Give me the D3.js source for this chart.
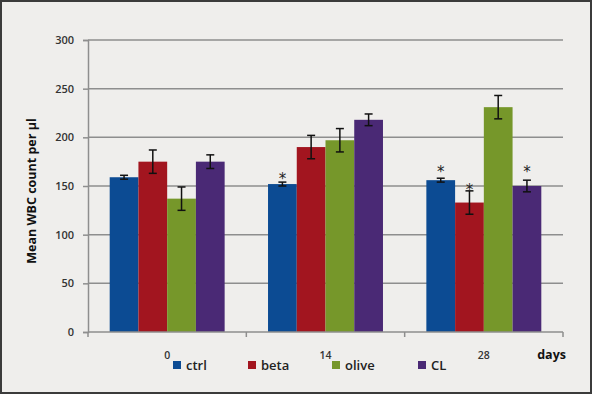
<!DOCTYPE html>
<html><head><meta charset="utf-8">
<script src="https://cdn.jsdelivr.net/npm/d3@7"></script>
<style>body{margin:0;background:#fff}svg{display:block}</style>
</head><body>
<svg id="c" width="593" height="396"></svg>
<script>
const categories = ["0", "14", "28"];
const seriesNames = ["ctrl", "beta", "olive", "CL"];
const seriesColors = ["#0c4b93", "#a2151f", "#76972a", "#4a2975"];
const ctrl  = [159, 152, 156];
const beta  = [175, 190, 133];
const olive = [137, 197, 231];
const CL    = [175, 218, 150];
const ctrlErr  = [2, 2, 2];
const betaErr  = [12, 12, 12];
const oliveErr = [12, 12, 12];
const CLErr    = [7, 6, 6];
// asterisk (significance) markers: value level of the star, null = none
const ctrlStar  = [null, 161, 168];
const betaStar  = [null, null, 150];
const oliveStar = [null, null, null];
const CLStar    = [null, null, 168];
const yTicks = [0, 50, 100, 150, 200, 250, 300];
const yLabel = "Mean WBC count per µl";
const xLabel = "days";

const values = [ctrl, beta, olive, CL];
const errs = [ctrlErr, betaErr, oliveErr, CLErr];
const stars = [ctrlStar, betaStar, oliveStar, CLStar];

const svg = d3.select("#c");
svg.append("rect").attr("x", 1).attr("y", 1).attr("width", 590).attr("height", 392)
  .attr("fill", "#efeeec").attr("stroke", "#3b3b3b").attr("stroke-width", 2);

const L = 88, R = 563, T = 40, B = 332;
const font = "'Open Sans', 'DejaVu Sans', sans-serif";
const x0 = d3.scaleBand().domain(categories).range([L, R]).paddingInner(0.274).paddingOuter(0.137);
const x1 = d3.scaleBand().domain(seriesNames).range([0, x0.bandwidth()]).padding(0);
const y = d3.scaleLinear().domain([0, 300]).range([B, T]);

// gridlines
svg.append("g").selectAll("line").data(yTicks.filter(d => d > 0)).join("line")
  .attr("x1", L).attr("x2", R).attr("y1", d => y(d)).attr("y2", d => y(d))
  .attr("stroke", "#8e8e8e").attr("stroke-width", 1.5);

// y axis
const ya = svg.append("g").attr("transform", `translate(${L},0)`)
  .call(d3.axisLeft(y).tickValues(yTicks).tickSize(5).tickPadding(9));
ya.select(".domain").attr("stroke", "#8e8e8e").attr("stroke-width", 1.5);
ya.selectAll(".tick line").attr("stroke", "#8e8e8e").attr("stroke-width", 1.5);
ya.selectAll("text").attr("font-family", font).attr("font-size", 11).attr("font-weight", 600).attr("fill", "#333");

// bars
const groups = svg.append("g").selectAll("g").data(categories).join("g")
  .attr("transform", d => `translate(${x0(d)},0)`);
seriesNames.forEach((s, si) => {
  groups.append("rect")
    .attr("x", x1(s)).attr("width", x1.bandwidth())
    .attr("y", (d, ci) => y(values[si][ci]))
    .attr("height", (d, ci) => y(0) - y(values[si][ci]))
    .attr("fill", seriesColors[si]);
});

// x axis
const xa = svg.append("g").attr("transform", `translate(0,${B})`);
xa.append("line").attr("x1", L).attr("x2", R).attr("stroke", "#8e8e8e").attr("stroke-width", 1.5);
const step = (R - L) / categories.length;
xa.selectAll("line.t").data(d3.range(categories.length + 1)).join("line").attr("class", "t")
  .attr("x1", i => L + i * step).attr("x2", i => L + i * step).attr("y1", 0).attr("y2", 5)
  .attr("stroke", "#8e8e8e").attr("stroke-width", 1.5);
xa.selectAll("text").data(categories).join("text")
  .attr("x", d => x0(d) + x0.bandwidth() / 2).attr("y", 27)
  .attr("text-anchor", "middle").attr("font-family", font).attr("font-size", 10.5)
  .attr("font-weight", 600).attr("fill", "#333").text(d => d);

// error bars
seriesNames.forEach((s, si) => {
  const g = groups.append("g");
  const cx = (ci) => x1(s) + x1.bandwidth() / 2;
  g.append("line").attr("x1", cx).attr("x2", cx)
    .attr("y1", (d, ci) => y(values[si][ci] + errs[si][ci]))
    .attr("y2", (d, ci) => y(values[si][ci] - errs[si][ci]))
    .attr("stroke", "#111").attr("stroke-width", 1.5);
  [1, -1].forEach(sg => {
    g.append("line").attr("x1", (d, ci) => cx(ci) - 4).attr("x2", (d, ci) => cx(ci) + 4)
      .attr("y1", (d, ci) => y(values[si][ci] + sg * errs[si][ci]))
      .attr("y2", (d, ci) => y(values[si][ci] + sg * errs[si][ci]))
      .attr("stroke", "#111").attr("stroke-width", 1.5);
  });
  groups.filter((d, ci) => stars[si][ci] != null).append("text")
    .attr("x", x1(s) + x1.bandwidth() / 2)
    .attr("y", d => y(stars[si][categories.indexOf(d)]) + 9)
    .attr("text-anchor", "middle").attr("font-family", "'DejaVu Sans', sans-serif")
    .attr("font-size", 15).attr("fill", "#222").text("*");
});

// axis titles
svg.append("text").attr("transform", "translate(36,191) rotate(-90)")
  .attr("text-anchor", "middle").attr("font-family", font).attr("font-size", 12.5)
  .attr("font-weight", 700).attr("fill", "#111").text(yLabel);
svg.append("text").attr("x", 566).attr("y", 359).attr("text-anchor", "end")
  .attr("font-family", font).attr("font-size", 12.5).attr("font-weight", 700)
  .attr("fill", "#111").text(xLabel);

// legend
const legX = [173, 248, 332, 418];
const leg = svg.append("g").selectAll("g").data(seriesNames).join("g")
  .attr("transform", (d, i) => `translate(${legX[i]},361)`);
leg.append("rect").attr("width", 8).attr("height", 8).attr("fill", (d, i) => seriesColors[i]);
leg.append("text").attr("x", 13).attr("y", 8.5).attr("font-family", font)
  .attr("font-size", 13).attr("font-weight", 600).attr("fill", "#222").text(d => d);
</script>
</body></html>
